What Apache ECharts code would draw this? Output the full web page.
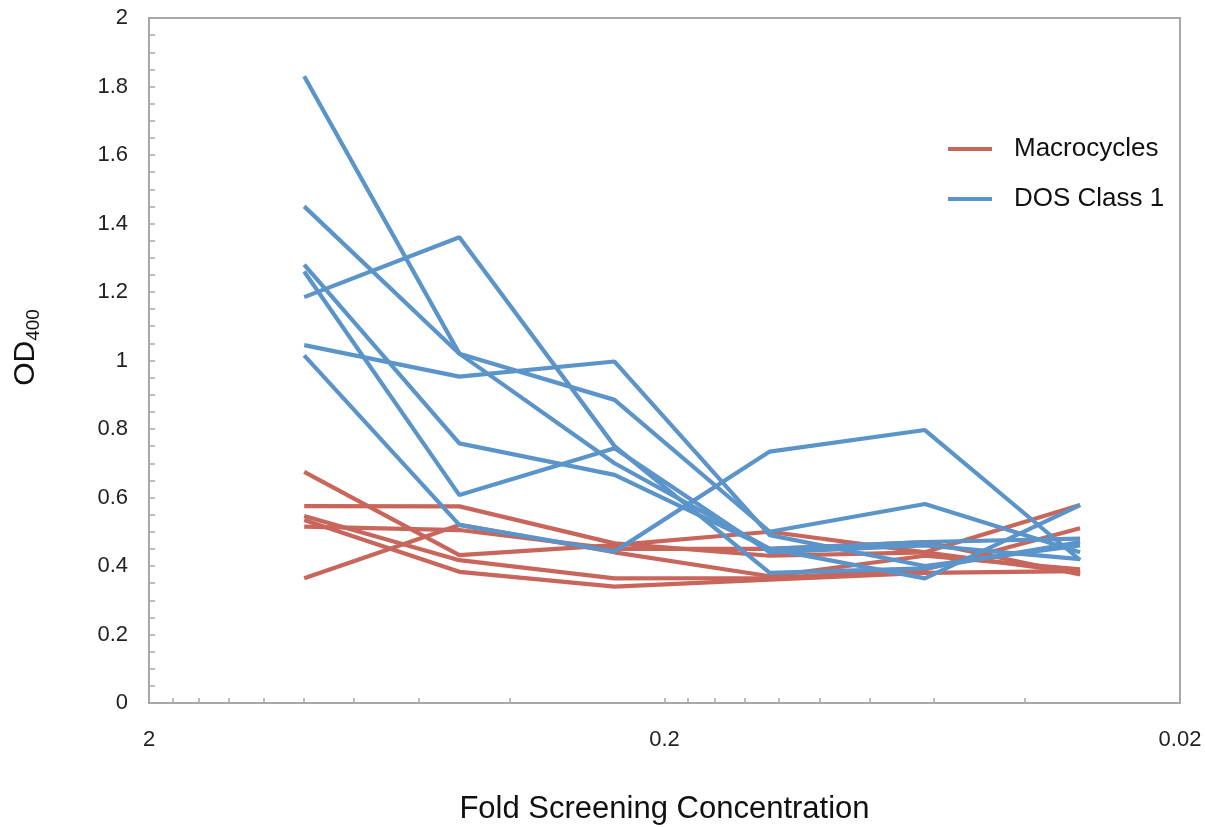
<!DOCTYPE html>
<html>
<head>
<meta charset="utf-8">
<script src="https://cdn.jsdelivr.net/npm/echarts@6/dist/echarts.min.js"></script>
<style>
html,body{margin:0;padding:0;background:#fff;}
#chart{width:1205px;height:827px;}
</style>
</head>
<body>
<div id="chart"></div>
<script>
// Fold screening concentrations (x, log scale)
const concentrations = [1, 0.5, 0.25, 0.125, 0.0625, 0.03125];

// Macrocycles (OD400)
const macro1 = [0.675, 0.432, 0.461, 0.50, 0.44, 0.38];
const macro2 = [0.575, 0.574, 0.466, 0.43, 0.44, 0.578];
const macro3 = [0.546, 0.417, 0.364, 0.365, 0.39, 0.51];
const macro4 = [0.534, 0.383, 0.340, 0.360, 0.38, 0.385];
const macro5 = [0.515, 0.505, 0.450, 0.450, 0.47, 0.375];
const macro6 = [0.364, 0.520, 0.440, 0.370, 0.43, 0.39];

// DOS Class 1 (OD400)
const dos1 = [1.83, 1.02, 0.70, 0.45, 0.364, 0.578];
const dos2 = [1.45, 1.02, 0.885, 0.50, 0.581, 0.44];
const dos3 = [1.185, 1.36, 0.75, 0.38, 0.393, 0.47];
const dos4 = [1.28, 0.758, 0.666, 0.45, 0.47, 0.48];
const dos5 = [1.26, 0.607, 0.744, 0.44, 0.46, 0.42];
const dos6 = [1.045, 0.953, 0.997, 0.49, 0.40, 0.46];
const dos7 = [1.015, 0.52, 0.442, 0.734, 0.797, 0.4175];

// Axis ticks
const xMajorTicks = [2, 0.2, 0.02];
const xMinorTicks = [1.8, 1.6, 1.4, 1.2, 1, 0.8, 0.6, 0.4, 0.18, 0.16, 0.14, 0.12, 0.1, 0.08, 0.06, 0.04];

const macroSeries = [macro1, macro2, macro3, macro4, macro5, macro6];
const dosSeries = [dos1, dos2, dos3, dos4, dos5, dos6, dos7];

const RED = '#C8665C';
const BLUE = '#5B94C8';
const AXIS = '#A8A8A8';
const FONT = 'Liberation Sans, Arial, Helvetica, sans-serif';

function toPairs(vals) { return vals.map((v, i) => [concentrations[i], v]); }

const series = [];
macroSeries.forEach(vals => series.push({
  name: 'Macrocycles', type: 'line', data: toPairs(vals), symbol: 'none',
  lineStyle: { width: 4.2, color: RED }, itemStyle: { color: RED }, z: 2
}));
dosSeries.forEach(vals => series.push({
  name: 'DOS Class 1', type: 'line', data: toPairs(vals), symbol: 'none',
  lineStyle: { width: 4.2, color: BLUE }, itemStyle: { color: BLUE }, z: 3
}));

const chart = echarts.init(document.getElementById('chart'), null, { renderer: 'canvas' });
chart.setOption({
  backgroundColor: '#fff',
  animation: false,
  grid: { left: 149, right: 25, top: 18, bottom: 124, outerBoundsMode: 'none', containLabel: false,
    show: true, borderColor: AXIS, borderWidth: 2, backgroundColor: 'transparent' },
  legend: {
    data: ['Macrocycles', 'DOS Class 1'],
    orient: 'vertical', left: 943, top: 131,
    icon: 'rect', itemWidth: 44, itemHeight: 4, itemGap: 24,
    textStyle: { fontSize: 26, color: '#111', fontFamily: FONT, padding: [0, 0, 0, 17] }
  },
  xAxis: {
    type: 'log', logBase: 10, min: 0.02, max: 2, inverse: true,
    name: 'Fold Screening Concentration', nameLocation: 'middle', nameGap: 91,
    nameTextStyle: { fontSize: 31, color: '#111', fontFamily: FONT },
    axisLine: { show: true, lineStyle: { color: AXIS, width: 2 } },
    axisTick: { show: true, inside: true, length: 5, lineStyle: { color: AXIS, width: 1.5 },
      customValues: xMajorTicks.concat(xMinorTicks) },
    minorTick: { show: false },
    axisLabel: { customValues: xMajorTicks, fontSize: 22, color: '#222', fontFamily: FONT, margin: 26,
      formatter: v => String(+(+v).toPrecision(3)) },
    splitLine: { show: false }
  },
  yAxis: {
    type: 'value', min: 0, max: 2, interval: 0.2,
    name: '{a|OD}{b|400}', nameLocation: 'middle', nameGap: 106, nameRotate: 90,
    nameTextStyle: { fontFamily: FONT, color: '#111',
      rich: { a: { fontSize: 30, fontFamily: FONT, color: '#111', padding: [0, 0, 0, 26] },
              b: { fontSize: 19, fontFamily: FONT, color: '#111', padding: [15, 0, 0, 0] } } },
    axisLine: { show: true, lineStyle: { color: AXIS, width: 2 } },
    axisTick: { show: true, inside: true, length: 6, lineStyle: { color: AXIS, width: 1.5 } },
    minorTick: { show: true, splitNumber: 4, length: 6, lineStyle: { color: AXIS, width: 1.5 } },
    axisLabel: { fontSize: 22, color: '#222', fontFamily: FONT, margin: 21 },
    splitLine: { show: false }
  },
  series: series
});
</script>
</body>
</html>
